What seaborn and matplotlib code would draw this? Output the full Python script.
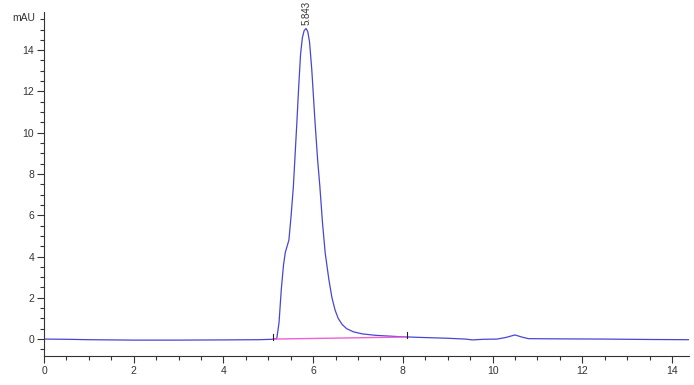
import matplotlib
matplotlib.use("Agg")
import matplotlib.pyplot as plt
import seaborn as sns
import pandas as pd
from matplotlib.ticker import MultipleLocator

# Chromatogram trace
time_min = [0.0, 0.5, 1.0, 2.0, 3.0, 4.0, 4.8, 5.1, 5.19, 5.24, 5.29, 5.34, 5.38,
            5.46, 5.51, 5.56, 5.60, 5.64, 5.68, 5.72, 5.76, 5.80, 5.843, 5.88,
            5.92, 5.97, 6.04, 6.10, 6.15, 6.21, 6.27, 6.35, 6.42, 6.49, 6.56,
            6.65, 6.75, 6.9, 7.1, 7.4, 7.9, 8.4, 9.0, 9.4, 9.55, 9.8, 10.1,
            10.3, 10.5, 10.65, 10.8, 11.5, 12.5, 13.5, 14.4]
signal_mau = [0.0, -0.01, -0.03, -0.05, -0.05, -0.04, -0.03, -0.01, 0.03, 0.8,
              2.4, 3.6, 4.2, 4.8, 6.0, 7.4, 9.0, 10.6, 12.3, 13.8, 14.6, 14.95,
              15.05, 14.9, 14.4, 13.06, 10.6, 8.7, 7.4, 5.6, 4.16, 2.9, 2.0,
              1.4, 1.0, 0.7, 0.5, 0.35, 0.25, 0.18, 0.12, 0.08, 0.04, 0.0, -0.04,
              -0.01, 0.0, 0.08, 0.2, 0.1, 0.02, 0.01, 0.0, -0.02, -0.03]

# Integration baseline
base_time = [5.1, 8.1]
base_signal = [0.0, 0.1]

peak_label = "5.843"
peak_time = 5.843
peak_height = 15.05

plt.rcParams["font.family"] = ["Liberation Sans", "DejaVu Sans"]

fig = plt.figure(figsize=(6.94, 3.85), dpi=100)
ax = fig.add_axes([44 / 694, 29 / 385, (689 - 44) / 694, (356 - 12) / 385])

df = pd.DataFrame({"t": time_min, "s": signal_mau})
bdf = pd.DataFrame({"t": base_time, "s": base_signal})

sns.lineplot(data=df, x="t", y="s", ax=ax, color="#4646d6", linewidth=0.9,
             estimator=None, sort=False)
sns.lineplot(data=bdf, x="t", y="s", ax=ax, color="#f060d8", linewidth=1.0,
             estimator=None, sort=False)

# start / end markers of integration
for bt, bs in zip(base_time, base_signal):
    ax.plot([bt, bt], [bs - 0.05, bs + 0.25], color="#222222", linewidth=0.8)

ax.text(peak_time, peak_height + 0.15, peak_label, rotation=90, ha="center",
        va="bottom", fontsize=7, color="#333333", clip_on=False)

ax.set_xlim(0, 14.38)
ax.set_ylim(-0.82, 15.85)
ax.xaxis.set_major_locator(MultipleLocator(2))
ax.xaxis.set_minor_locator(MultipleLocator(0.5))
ax.yaxis.set_major_locator(MultipleLocator(2))
ax.yaxis.set_minor_locator(MultipleLocator(0.5))
ax.tick_params(which="major", length=5, width=0.8, labelsize=7.5,
               colors="#333333", pad=2)
ax.tick_params(which="minor", length=3, width=0.8, colors="#333333")
ax.set_xlabel("")
ax.set_ylabel("")
for side in ["top", "right"]:
    ax.spines[side].set_visible(False)
for side in ["left", "bottom"]:
    ax.spines[side].set_color("#333333")
    ax.spines[side].set_linewidth(0.8)

fig.text(12 / 694, 1 - 18 / 385, "mAU", fontsize=7.5, color="#333333",
         ha="left", va="center")

fig.savefig("out.png", dpi=100, facecolor="white")
